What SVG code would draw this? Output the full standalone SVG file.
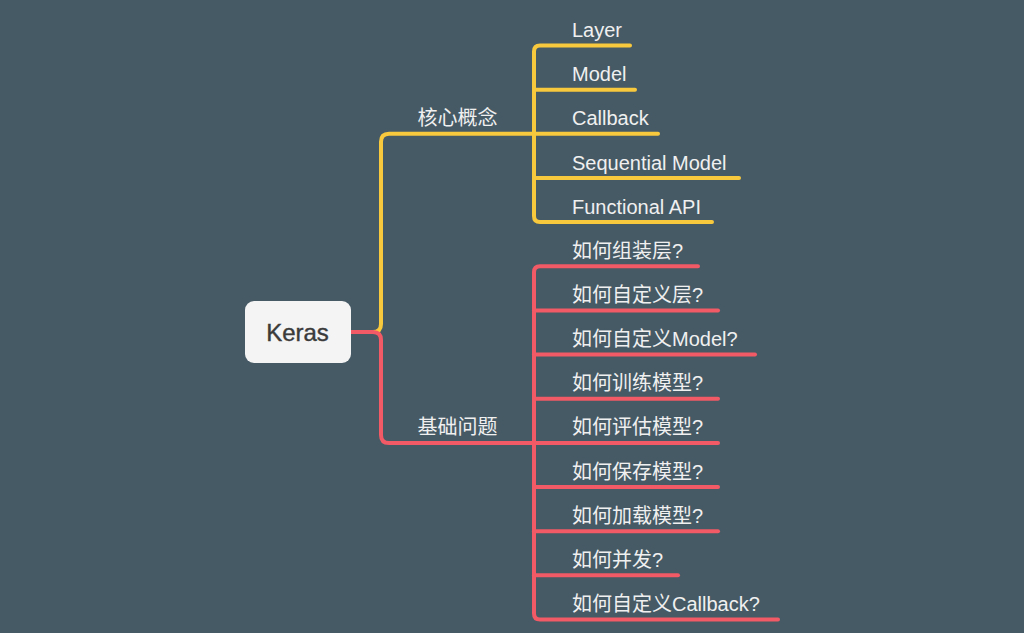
<svg xmlns="http://www.w3.org/2000/svg" width="1024" height="633" viewBox="0 0 1024 633">
<style>
.bg{fill:#465a65}
.y{fill:none;stroke:#f9c93d;stroke-width:4;stroke-linecap:round;stroke-linejoin:round}
.r{fill:none;stroke:#f25a66;stroke-width:4;stroke-linecap:round;stroke-linejoin:round}
.t{font-family:"Liberation Sans","Noto Sans CJK SC",sans-serif;font-size:20px;fill:#f0f0f0}
.root{fill:#f4f4f4}
.rt{font-family:"Liberation Sans","Noto Sans CJK SC",sans-serif;font-size:24px;fill:#3b3b3b;stroke:#3b3b3b;stroke-width:0.4}
</style>
<rect class="bg" x="0" y="0" width="1024" height="633"/>
<g id="connectors">
<path class="y" d="M351,332 H373 Q381,332 381,324 V141.8 Q381,133.8 389,133.8 H534"/>
<path class="r" d="M351,332 H373 Q381,332 381,340 V434.9 Q381,442.9 389,442.9 H534"/>
<path class="y" d="M630,45.5 H540 Q534,45.5 534,51.5 V216.1 Q534,222.1 540,222.1 H712"/>
<path class="y" d="M534,89.7 H635"/>
<path class="y" d="M534,133.8 H658"/>
<path class="y" d="M534,178 H739"/>
<path class="r" d="M698,266.3 H540 Q534,266.3 534,272.3 V613.5 Q534,619.5 540,619.5 H778"/>
<path class="r" d="M534,310.4 H718"/>
<path class="r" d="M534,354.6 H755"/>
<path class="r" d="M534,398.7 H718"/>
<path class="r" d="M534,442.9 H718"/>
<path class="r" d="M534,487 H718"/>
<path class="r" d="M534,531.2 H718"/>
<path class="r" d="M534,575.3 H678"/>
</g>
<g id="node-root">
<rect class="root" x="245" y="301" width="106" height="62" rx="9"/>
<text class="rt" x="297.5" y="340.8" text-anchor="middle">Keras</text>
</g>
<g id="node-core"><text class="t" x="457.5" y="124.5" text-anchor="middle">核心概念</text></g>
<g id="node-basic"><text class="t" x="457.5" y="433.5" text-anchor="middle">基础问题</text></g>
<g id="node-layer"><text class="t" x="572" y="37">Layer</text></g>
<g id="node-model"><text class="t" x="572" y="81.2">Model</text></g>
<g id="node-callback"><text class="t" x="572" y="125.3">Callback</text></g>
<g id="node-sequential"><text class="t" x="572" y="169.5">Sequential Model</text></g>
<g id="node-functional"><text class="t" x="572" y="213.6">Functional API</text></g>
<g id="node-q1"><text class="t" x="572" y="257.8">如何组装层?</text></g>
<g id="node-q2"><text class="t" x="572" y="301.9">如何自定义层?</text></g>
<g id="node-q3"><text class="t" x="572" y="346.1">如何自定义Model?</text></g>
<g id="node-q4"><text class="t" x="572" y="390.2">如何训练模型?</text></g>
<g id="node-q5"><text class="t" x="572" y="434.4">如何评估模型?</text></g>
<g id="node-q6"><text class="t" x="572" y="478.5">如何保存模型?</text></g>
<g id="node-q7"><text class="t" x="572" y="522.7">如何加载模型?</text></g>
<g id="node-q8"><text class="t" x="572" y="566.8">如何并发?</text></g>
<g id="node-q9"><text class="t" x="572" y="611">如何自定义Callback?</text></g>
</svg>
